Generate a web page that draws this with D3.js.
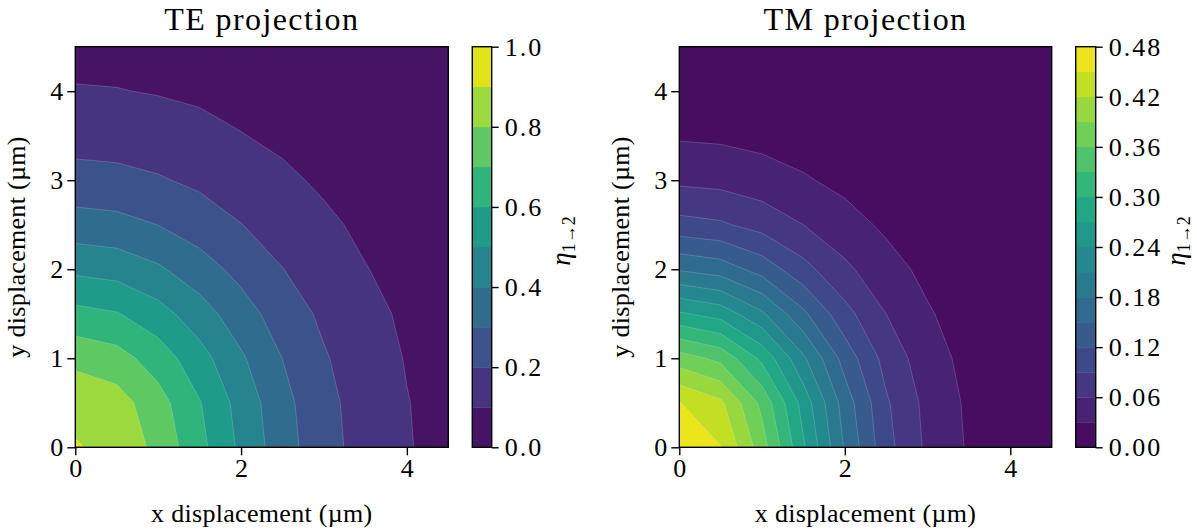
<!DOCTYPE html>
<html>
<head>
<meta charset="utf-8">
<script src="https://cdn.jsdelivr.net/npm/d3@7"></script>
<style>
  body { margin: 0; background: #fff; }
  text { font-family: "Liberation Serif", "DejaVu Serif", serif; fill: #000; }
</style>
</head>
<body>
<svg id="chart" width="1197" height="531"></svg>
<script>
// Sampling grid (µm)
const xGrid = [0, 0.5, 1, 1.5, 2, 2.5, 3, 3.5, 4, 4.5];
const yGrid = [0, 0.5, 1, 1.5, 2, 2.5, 3, 3.5, 4, 4.5];

// Coupling efficiency, TE projection (rows: y, columns: x)
const teValues = [
  [0.906, 0.877, 0.770, 0.630, 0.479, 0.343, 0.2355, 0.1615, 0.106, 0.070],
  [0.877, 0.843, 0.739, 0.606, 0.462, 0.331, 0.228, 0.157, 0.103, 0.0685],
  [0.770, 0.739, 0.653, 0.538, 0.414, 0.299, 0.209, 0.144, 0.095, 0.064],
  [0.630, 0.606, 0.538, 0.445, 0.343, 0.252, 0.181, 0.126, 0.085, 0.057],
  [0.479, 0.462, 0.414, 0.343, 0.270, 0.202, 0.148, 0.103, 0.072, 0.049],
  [0.343, 0.331, 0.299, 0.252, 0.202, 0.157, 0.116, 0.083, 0.0585, 0.040],
  [0.2355, 0.228, 0.209, 0.181, 0.148, 0.116, 0.087, 0.064, 0.045, 0.031],
  [0.1615, 0.157, 0.144, 0.126, 0.103, 0.083, 0.064, 0.0475, 0.035, 0.023],
  [0.106, 0.103, 0.095, 0.085, 0.072, 0.0585, 0.045, 0.035, 0.024, 0.017],
  [0.070, 0.0685, 0.064, 0.057, 0.049, 0.040, 0.031, 0.023, 0.017, 0.012]
];

// Coupling efficiency, TM projection (rows: y, columns: x)
const tmValues = [
  [0.470, 0.451, 0.374, 0.274, 0.177, 0.100, 0.054, 0.0267, 0.012, 0.005],
  [0.451, 0.426, 0.352, 0.258, 0.166, 0.094, 0.051, 0.025, 0.0114, 0.0048],
  [0.374, 0.352, 0.293, 0.215, 0.138, 0.079, 0.043, 0.021, 0.0098, 0.0042],
  [0.274, 0.258, 0.215, 0.156, 0.100, 0.060, 0.033, 0.016, 0.008, 0.0035],
  [0.177, 0.166, 0.138, 0.100, 0.066, 0.041, 0.0225, 0.0114, 0.0056, 0.0026],
  [0.100, 0.094, 0.079, 0.060, 0.041, 0.025, 0.014, 0.0076, 0.0036, 0.0017],
  [0.054, 0.051, 0.043, 0.033, 0.0225, 0.014, 0.0083, 0.0042, 0.002, 0.0012],
  [0.0267, 0.025, 0.021, 0.016, 0.0114, 0.0076, 0.0042, 0.0025, 0.0014, 0.0008],
  [0.012, 0.0114, 0.0098, 0.008, 0.0056, 0.0036, 0.002, 0.0014, 0.0009, 0.0005],
  [0.005, 0.0048, 0.0042, 0.0035, 0.0026, 0.0017, 0.0012, 0.0008, 0.0005, 0.0003]
];

// Contour levels and colorbar ticks
const teLevels = [0, 0.1, 0.2, 0.3, 0.4, 0.5, 0.6, 0.7, 0.8, 0.9, 1.0];
const tmLevels = [0, 0.03, 0.06, 0.09, 0.12, 0.15, 0.18, 0.21, 0.24, 0.27, 0.30, 0.33, 0.36, 0.39, 0.42, 0.45, 0.48];
const teTicks = [0, 0.2, 0.4, 0.6, 0.8, 1.0];
const tmTicks = [0, 0.06, 0.12, 0.18, 0.24, 0.30, 0.36, 0.42, 0.48];

// Axis ticks
const xTicks = [0, 2, 4];
const yTicks = [0, 1, 2, 3, 4];
const axisDomain = [0, 4.5];

const svg = d3.select("#chart");
const plotTop = 46.7, plotBottom = 447.3;
const tickFont = 26, labelFont = 26, titleFont = 32;

const panels = [
  { key: "te", title: "TE projection", values: teValues, levels: teLevels, ticks: teTicks,
    fmt: d3.format(".1f"), ax: [75.3, 448.3], cb: [472.3, 491.7], cbLabelX: 570 },
  { key: "tm", title: "TM projection", values: tmValues, levels: tmLevels, ticks: tmTicks,
    fmt: d3.format(".2f"), ax: [679.3, 1051.7], cb: [1075.7, 1095.7], cbLabelX: 1185 }
];

panels.forEach(p => {
  const g = svg.append("g");
  const x = d3.scaleLinear().domain(axisDomain).range(p.ax);
  const y = d3.scaleLinear().domain(axisDomain).range([plotBottom, plotTop]);

  // grid-index space of d3.contours -> data units
  const nx = xGrid.length, ny = yGrid.length;
  const gx = d3.scaleLinear().domain([0.5, nx - 0.5]).range([xGrid[0], xGrid[nx - 1]]);
  const gy = d3.scaleLinear().domain([0.5, ny - 0.5]).range([yGrid[0], yGrid[ny - 1]]);
  const path = d3.geoPath(d3.geoTransform({
    point(px, py) { this.stream.point(x(gx(px)), y(gy(py))); }
  }));

  const nBands = p.levels.length - 1;
  const color = i => d3.interpolateViridis((i + 0.5) / nBands);
  const bands = d3.contours().size([nx, ny]).thresholds(p.levels.slice(0, -1))(p.values.flat());

  g.append("clipPath").attr("id", "clip-" + p.key)
    .append("rect")
    .attr("x", p.ax[0]).attr("y", plotTop)
    .attr("width", p.ax[1] - p.ax[0]).attr("height", plotBottom - plotTop);

  g.append("g").attr("clip-path", `url(#clip-${p.key})`)
    .selectAll("path").data(bands).join("path")
    .attr("d", path)
    .attr("fill", (d, i) => color(i))
    .attr("fill-rule", "evenodd")
    .attr("stroke", (d, i) => i ? "rgba(255,255,255,0.3)" : "none")
    .attr("stroke-width", 0.6);

  // frame
  g.append("rect")
    .attr("x", p.ax[0]).attr("y", plotTop)
    .attr("width", p.ax[1] - p.ax[0]).attr("height", plotBottom - plotTop)
    .attr("fill", "none").attr("stroke", "#000").attr("stroke-width", 1.4);

  // axes
  const xa = g.append("g").attr("transform", `translate(0,${plotBottom})`)
    .call(d3.axisBottom(x).tickValues(xTicks).tickSize(8).tickPadding(3).tickFormat(d3.format("d")));
  const ya = g.append("g").attr("transform", `translate(${p.ax[0]},0)`)
    .call(d3.axisLeft(y).tickValues(yTicks).tickSize(8).tickPadding(4).tickFormat(d3.format("d")));
  [xa, ya].forEach(a => {
    a.select(".domain").remove();
    a.selectAll(".tick line").attr("stroke", "#000").attr("stroke-width", 1.4);
    a.selectAll(".tick text").attr("font-size", tickFont)
      .attr("font-family", "Liberation Serif, serif");
  });

  // axis labels and title
  const cx = (p.ax[0] + p.ax[1]) / 2;
  g.append("text").attr("x", cx).attr("y", 522).attr("text-anchor", "middle")
    .attr("font-size", labelFont).attr("letter-spacing", 0.3).text("x displacement (µm)");
  g.append("text").attr("transform", `translate(${p.ax[0] - 50},${(plotTop + plotBottom) / 2}) rotate(-90)`)
    .attr("text-anchor", "middle").attr("font-size", labelFont).attr("letter-spacing", 0.3)
    .text("y displacement (µm)");
  g.append("text").attr("x", cx).attr("y", 30).attr("text-anchor", "middle")
    .attr("font-size", titleFont).attr("letter-spacing", 1.4).text(p.title);

  // colorbar
  const cy = d3.scaleLinear().domain([p.levels[0], p.levels[nBands]]).range([plotBottom, plotTop]);
  g.append("g").selectAll("rect").data(p.levels.slice(0, -1)).join("rect")
    .attr("x", p.cb[0]).attr("width", p.cb[1] - p.cb[0])
    .attr("y", (d, i) => cy(p.levels[i + 1]))
    .attr("height", (d, i) => cy(p.levels[i]) - cy(p.levels[i + 1]) + 0.3)
    .attr("fill", (d, i) => color(i));
  g.append("rect")
    .attr("x", p.cb[0]).attr("y", plotTop)
    .attr("width", p.cb[1] - p.cb[0]).attr("height", plotBottom - plotTop)
    .attr("fill", "none").attr("stroke", "#000").attr("stroke-width", 1.4);
  const ca = g.append("g").attr("transform", `translate(${p.cb[1]},0)`)
    .call(d3.axisRight(cy).tickValues(p.ticks).tickSize(7).tickPadding(6).tickFormat(p.fmt));
  ca.select(".domain").remove();
  ca.selectAll(".tick line").attr("stroke", "#000").attr("stroke-width", 1.4);
  ca.selectAll(".tick text").attr("font-size", tickFont).attr("letter-spacing", 2)
    .attr("font-family", "Liberation Serif, serif");

  const lab = g.append("text")
    .attr("transform", `translate(${p.cbLabelX},241) rotate(-90)`)
    .attr("text-anchor", "middle").attr("font-size", 27);
  lab.append("tspan").attr("font-style", "italic").text("η");
  lab.append("tspan").attr("font-size", 18).attr("dy", 5).text("1→2");
});
</script>
</body>
</html>
